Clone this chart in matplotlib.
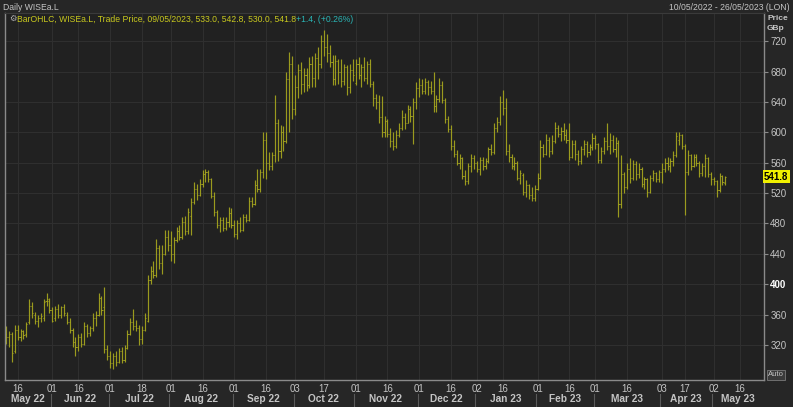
import numpy as np
import pandas as pd
import matplotlib
matplotlib.use("Agg")
import matplotlib.pyplot as plt
import matplotlib.transforms as mtransforms

plt.rcParams['font.family'] = ['Liberation Sans', 'DejaVu Sans']

# trading calendar (LSE), axis runs to 26/05/2023
holidays = ['2022-06-02', '2022-06-03', '2022-08-29', '2022-09-19', '2022-12-26',
            '2022-12-27', '2023-01-02', '2023-04-07', '2023-04-10', '2023-05-01',
            '2023-05-08']
days = pd.bdate_range('2022-05-10', '2023-05-26')
days = days[~days.isin(pd.to_datetime(holidays))]

# daily OHLC, WISEa.L, GBp
opens = [
    335, 330, 335, 312, 340, 331, 338, 334, 350, 372, 360, 352, 356, 356, 378, 378,
    366, 355, 368, 360, 370, 360, 350, 340, 324, 318, 330, 322, 345, 336, 342, 356, 360, 382, 370, 315,
    305, 296, 305, 298, 312, 300, 316, 335, 350, 345, 342, 328, 340, 352, 405, 418, 412, 448, 428, 440, 462,
    452, 440, 458, 470, 462, 482, 470, 490, 508, 525, 518, 532, 545, 548, 538, 516, 495, 478, 485, 474, 482, 494,
    478, 466, 480, 472, 488, 485, 510, 506, 530, 526, 548, 590, 560, 556, 570, 612, 575, 600, 588, 670, 690,
    630, 660, 682, 664, 676, 662, 690, 672, 698, 690, 720, 712, 705, 692, 670, 694, 680, 668, 686, 660, 682,
    665, 690, 676, 686, 672, 690, 664, 645, 640, 620, 600, 615, 598, 588, 582, 596, 605, 620, 612, 630, 622, 640,
    658, 662, 655, 666, 660, 654, 634, 644, 662, 642, 618, 604, 582, 572, 560, 566, 542, 536, 555, 566,
    560, 552, 564, 556, 562, 578, 574, 605, 614, 640, 632, 575, 568, 556, 560, 540, 544, 522, 530, 518, 514,
    526, 540, 580, 572, 590, 575, 588, 606, 598, 602, 596, 590, 568, 585, 572, 562, 578, 584, 574, 580,
    592, 584, 564, 576, 588, 582, 590, 578, 586, 505, 545, 528, 552, 540, 558, 545, 552, 532, 538, 522, 540, 546, 538,
    548, 552, 560, 556, 562, 570, 590, 596, 582, 548, 570, 556, 568, 560, 546, 555, 566, 545,
    538, 536, 524, 542, 533]
highs = [
    345, 338, 337, 346, 347, 341, 340, 350, 380, 376, 364, 360, 362, 380, 389, 382,
    370, 372, 374, 372, 374, 364, 356, 342, 330, 334, 336, 350, 348, 345, 362, 365, 388, 385, 397, 320,
    312, 310, 312, 316, 318, 320, 340, 356, 368, 353, 346, 345, 362, 412, 424, 430, 460, 452, 452, 472, 471,
    470, 462, 476, 478, 488, 490, 500, 513, 535, 532, 539, 550, 552, 550, 540, 522, 498, 489, 489, 488, 502, 500,
    484, 484, 489, 493, 493, 515, 515, 537, 552, 552, 601, 600, 574, 574, 649, 618, 610, 608, 680, 706, 700,
    675, 690, 693, 684, 684, 699, 700, 704, 712, 728, 735, 730, 715, 702, 702, 697, 696, 690, 688, 690, 697,
    697, 699, 690, 699, 694, 696, 668, 651, 649, 648, 622, 618, 605, 600, 603, 612, 629, 626, 636, 634, 645, 666,
    671, 670, 671, 669, 668, 680, 649, 671, 668, 645, 622, 610, 590, 577, 572, 568, 550, 560, 572, 570,
    562, 568, 568, 566, 581, 584, 612, 620, 648, 656, 645, 585, 572, 568, 562, 550, 546, 537, 532, 528, 530,
    546, 590, 584, 598, 594, 596, 614, 610, 607, 612, 604, 612, 590, 590, 577, 582, 590, 588, 585, 599,
    596, 586, 581, 594, 612, 599, 596, 594, 590, 570, 548, 559, 566, 564, 562, 559, 554, 541, 540, 544, 550, 548, 550,
    559, 566, 568, 566, 575, 601, 601, 598, 584, 577, 572, 572, 572, 562, 559, 572, 568, 548,
    541, 537, 546, 544, 542.8]
lows = [
    322, 318, 298, 310, 326, 325, 328, 330, 348, 356, 348, 344, 350, 352, 372, 362,
    350, 352, 356, 355, 358, 348, 336, 318, 305, 312, 318, 320, 330, 332, 338, 345, 358, 360, 310, 300,
    290, 288, 292, 296, 296, 298, 315, 333, 340, 338, 320, 322, 338, 350, 400, 408, 410, 420, 414, 438, 444,
    430, 428, 455, 458, 460, 465, 466, 465, 505, 511, 516, 528, 535, 534, 513, 490, 474, 469, 470, 472, 476, 474,
    462, 460, 469, 470, 482, 483, 502, 504, 522, 522, 540, 539, 550, 550, 561, 562, 566, 576, 586, 600, 618,
    623, 645, 650, 653, 655, 658, 660, 660, 670, 684, 700, 693, 686, 662, 662, 664, 660, 662, 649, 652, 668,
    662, 670, 660, 668, 664, 660, 634, 630, 612, 594, 594, 594, 580, 577, 579, 594, 603, 604, 612, 614, 585, 630,
    647, 650, 651, 649, 650, 627, 627, 640, 638, 612, 600, 577, 568, 557, 552, 538, 530, 532, 548, 552,
    548, 544, 550, 552, 560, 570, 572, 600, 610, 623, 570, 561, 552, 550, 537, 532, 518, 515, 512, 509, 510,
    524, 538, 568, 570, 568, 572, 586, 594, 588, 590, 586, 563, 566, 563, 557, 558, 570, 568, 570, 577,
    578, 559, 560, 572, 577, 572, 574, 568, 489, 500, 520, 526, 533, 537, 537, 540, 528, 526, 515, 520, 536, 535, 534,
    533, 548, 550, 548, 556, 568, 583, 578, 491, 544, 550, 554, 555, 541, 542, 541, 541, 531,
    530, 515, 522, 531, 530]
closes = [
    330, 335, 310, 340, 331, 338, 333, 348, 372, 362, 352, 356, 358, 376, 380, 366,
    352, 368, 360, 370, 362, 350, 340, 324, 318, 330, 322, 345, 336, 342, 356, 360, 382, 366, 315, 305,
    296, 305, 298, 312, 300, 316, 335, 350, 345, 342, 328, 340, 355, 405, 418, 412, 448, 428, 440, 462, 452,
    440, 458, 470, 462, 482, 470, 495, 508, 525, 518, 532, 545, 548, 538, 516, 495, 478, 485, 474, 482, 494, 478,
    466, 480, 472, 488, 485, 510, 506, 530, 526, 548, 590, 560, 556, 570, 612, 575, 600, 588, 670, 690, 630,
    660, 682, 664, 676, 662, 690, 672, 698, 690, 720, 712, 705, 692, 670, 694, 680, 668, 686, 660, 682, 675,
    690, 676, 686, 672, 690, 664, 645, 640, 620, 600, 615, 598, 588, 582, 596, 605, 620, 612, 630, 622, 640, 658,
    662, 655, 666, 660, 654, 634, 644, 662, 642, 618, 604, 582, 572, 560, 566, 542, 536, 555, 566, 560,
    552, 564, 556, 562, 578, 574, 605, 614, 640, 632, 575, 568, 556, 560, 540, 546, 522, 530, 518, 514, 526,
    540, 580, 572, 590, 575, 588, 606, 598, 602, 596, 590, 568, 585, 572, 562, 578, 584, 574, 580, 592,
    584, 564, 576, 588, 582, 590, 578, 586, 505, 545, 528, 552, 540, 558, 545, 552, 532, 538, 522, 540, 546, 538, 548,
    552, 560, 556, 562, 570, 595, 596, 582, 548, 570, 556, 568, 560, 546, 555, 566, 545, 538,
    536, 524, 542, 535, 541.8]

tick_dates = ['2022-05-16', '2022-06-01', '2022-06-16', '2022-07-01', '2022-07-18', '2022-08-01',
              '2022-08-16', '2022-09-01', '2022-09-16', '2022-10-03', '2022-10-17', '2022-11-01',
              '2022-11-16', '2022-12-01', '2022-12-16', '2023-01-02', '2023-01-16', '2023-02-01',
              '2023-02-16', '2023-03-01', '2023-03-16', '2023-04-03', '2023-04-17', '2023-05-02',
              '2023-05-16']
tick_labels = ['16', '01', '16', '01', '18', '01', '16', '01', '16', '03', '17', '01', '16',
               '01', '16', '02', '16', '01', '16', '01', '16', '03', '17', '02', '16']
month_labels = ['May 22', 'Jun 22', 'Jul 22', 'Aug 22', 'Sep 22', 'Oct 22', 'Nov 22',
                'Dec 22', 'Jan 23', 'Feb 23', 'Mar 23', 'Apr 23', 'May 23']
yticks = [320, 360, 400, 440, 480, 520, 560, 600, 640, 680, 720]

bg = '#212121'
bar_col = '#a8a81e'
txt_col = '#c4c4c4'

W, H = 793, 407
fig = plt.figure(figsize=(W / 100, H / 100), dpi=100, facecolor='#262626')
ax = fig.add_axes([5 / W, 27 / H, 759 / W, 367 / H], facecolor=bg)

x = np.arange(len(closes))
ax.vlines(x, lows, highs, color=bar_col, lw=0.85, alpha=0.9)
ax.hlines(opens, x - 0.38, x, color=bar_col, lw=0.7, alpha=0.9)
ax.hlines(closes, x, x + 0.38, color=bar_col, lw=0.7, alpha=0.9)

ax.set_xlim(-0.4, len(days) - 0.6)
ax.set_ylim(274, 757)

# grid
ax.set_yticks(yticks)
tick_pos = [days.searchsorted(pd.Timestamp(d)) for d in tick_dates]
ax.set_xticks(tick_pos, labels=tick_labels)
ax.grid(True, color='#2f2f2f', lw=0.8)
ax.set_axisbelow(True)

ax.yaxis.tick_right()
ax.tick_params(axis='y', colors='#8a8a8a', labelcolor=txt_col, length=3, width=0.8,
               pad=1.5, labelsize=7)
for lab in ax.get_yticklabels():
    if lab.get_text() == '400':
        lab.set_color('white')
        lab.set_fontweight('bold')
ax.tick_params(axis='x', length=0, pad=3, labelsize=7, labelcolor=txt_col)

for side in ['left', 'right', 'bottom']:
    ax.spines[side].set_color('#8a8a8a')
    ax.spines[side].set_linewidth(1)
ax.spines['top'].set_color('#3a3a3a')

# month row with separators
tr = mtransforms.blended_transform_factory(ax.transData, ax.transAxes)
month_start = [0]
for i in range(1, len(days)):
    if days[i].month != days[i - 1].month:
        month_start.append(i)
edges = [s - 0.5 for s in month_start] + [len(days) - 0.6]
for k, lab in enumerate(month_labels):
    ax.text((edges[k] + edges[k + 1]) / 2, -0.052, lab, transform=tr, ha='center',
            va='center', fontsize=7.3, fontweight='bold', color=txt_col)
    if k > 0:
        ax.plot([edges[k]] * 2, [-0.038, -0.08], transform=tr, color='#5a5a5a',
                lw=0.8, clip_on=False)

# last price marker
ax.text(1.0, closes[-1], f'{closes[-1]:.1f}', transform=ax.get_yaxis_transform(),
        ha='left', va='center', fontsize=7, fontweight='bold', color='black',
        bbox=dict(boxstyle='square,pad=0.15', fc='#f0f000', ec='none'))

# header and legend
fig.text(3 / W, 1 - 7 / H, 'Daily WISEa.L', color=txt_col, fontsize=6.2, va='center')
fig.text(790 / W, 1 - 7 / H, '10/05/2022 - 26/05/2023 (LON)', color=txt_col,
         fontsize=6.2, va='center', ha='right')
fig.text(767 / W, 1 - 19 / H, 'Price', color=txt_col, fontsize=6, fontweight='bold', va='center')
fig.text(767 / W, 1 - 29 / H, 'GBp', color=txt_col, fontsize=6, fontweight='bold', va='center')
fig.text(768 / W, 1 - 375 / H, 'Auto', color=txt_col, fontsize=5.5, va='center',
         bbox=dict(boxstyle='square,pad=0.15', fc='#3a3a3a', ec='#7a7a7a', lw=0.6))

fig.text(9 / W, 1 - 18 / H, '\u2699', color='#b0b0b0', fontsize=6, va='center',
         family=['DejaVu Sans'])
t1 = fig.text(17 / W, 1 - 19 / H,
              'BarOHLC, WISEa.L, Trade Price, 09/05/2023, 533.0, 542.8, 530.0, 541.8',
              color='#c8c81e', fontsize=6.2, va='center')
fig.canvas.draw()
bb = t1.get_window_extent()
fig.text(bb.x1 / W, 1 - 19 / H, '+1.4, (+0.26%)', color='#2ab4b4', fontsize=6.2, va='center')

fig.savefig('out.png', dpi=100, facecolor=fig.get_facecolor())
